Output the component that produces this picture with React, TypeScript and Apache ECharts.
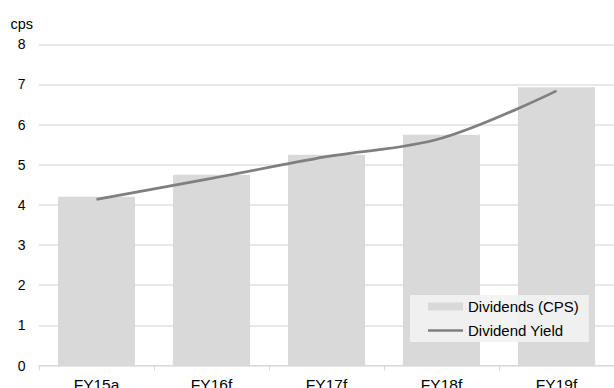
import React, { useEffect, useRef } from "react";
import * as echarts from "echarts";

// Financial years shown on the category axis
const years = ["FY15a", "FY16f", "FY17f", "FY18f", "FY19f"];
// Dividends per share, cents
const dividendsCps = [4.2, 4.75, 5.25, 5.75, 6.93];
// Dividend yield line, plotted on a hidden secondary axis of the same span
const dividendYield = [4.14, 4.66, 5.2, 5.66, 6.84];
const cpsTicks = { min: 0, max: 8, interval: 1 };

const FONT = "'Liberation Sans', Arial, sans-serif";

export default function App() {
  const ref = useRef<HTMLDivElement>(null);

  useEffect(() => {
    if (!ref.current) return;
    const chart = echarts.init(ref.current, undefined, { renderer: "svg" });
    chart.setOption({
      animation: false,
      textStyle: { fontFamily: FONT },
      grid: {
        left: 39,
        right: 0,
        top: 44.3,
        bottom: 22.5,
        containLabel: false,
        outerBoundsMode: "none",
      },
      legend: {
        orient: "vertical",
        left: 410,
        top: 295,
        padding: [4, 10, 4, 18],
        itemGap: 9,
        itemWidth: 35,
        itemHeight: 8,
        backgroundColor: "rgba(242,242,242,0.92)",
        textStyle: { fontFamily: FONT, fontSize: 15, color: "#000" },
        data: [
          { name: "Dividends (CPS)", icon: "rect" },
          { name: "Dividend Yield", icon: "path://M0,0h35v2.5H0z" },
        ],
      },
      xAxis: {
        type: "category",
        data: years,
        axisLine: { lineStyle: { color: "#d9d9d9", width: 1 } },
        axisTick: { show: true, length: 5, lineStyle: { color: "#d9d9d9" } },
        axisLabel: { color: "#000", fontSize: 15.5, fontFamily: FONT, margin: 11 },
      },
      yAxis: [
        {
          type: "value",
          ...cpsTicks,
          name: "cps",
          nameLocation: "end",
          nameGap: 13,
          nameTextStyle: { color: "#000", fontSize: 14.5, fontFamily: FONT, align: "right", padding: [0, 6, 0, 0] },
          axisLine: { show: false },
          axisTick: { show: false },
          splitLine: { lineStyle: { color: "#e0e0e0", width: 1.5 } },
          axisLabel: { color: "#000", fontSize: 14, fontFamily: FONT, margin: 13.5 },
        },
        {
          type: "value",
          ...cpsTicks,
          show: false,
          splitLine: { show: false },
        },
      ],
      series: [
        {
          name: "Dividends (CPS)",
          type: "bar",
          data: dividendsCps,
          barCategoryGap: "33%",
          itemStyle: { color: "#d9d9d9" },
          z: 1,
        },
        {
          name: "Dividend Yield",
          type: "line",
          yAxisIndex: 1,
          data: dividendYield,
          smooth: 0.35,
          symbol: "none",
          lineStyle: { color: "#7f7f7f", width: 2.75 },
          itemStyle: { color: "#7f7f7f" },
          z: 3,
        },
      ],
    });
    return () => chart.dispose();
  }, []);

  return (
    <div
      ref={ref}
      style={{ position: "fixed", left: 0, top: 0, width: 614, height: 388, background: "#fff" }}
    />
  );
}
